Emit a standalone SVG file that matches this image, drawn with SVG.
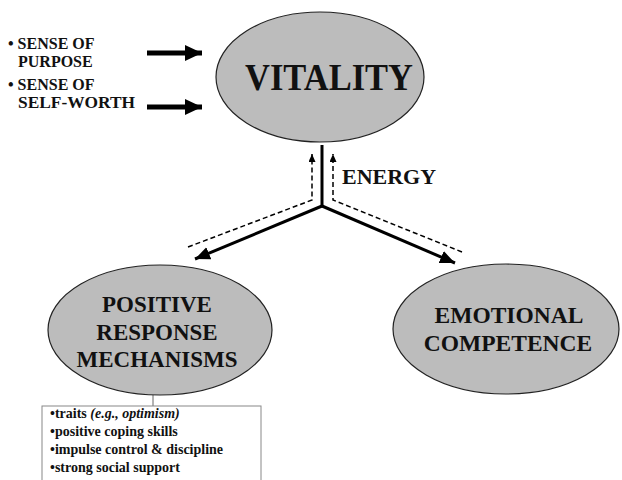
<svg xmlns="http://www.w3.org/2000/svg" width="622" height="480" viewBox="0 0 622 480">
<style>
.node{fill:#bcbcbc;stroke:#222;stroke-width:1.2}
.t{font-family:"Liberation Serif","Times New Roman",serif;font-weight:bold;fill:#111}
.solid{stroke:#000;stroke-width:3;fill:none}
.dash{stroke:#000;stroke-width:1.5;fill:none;stroke-dasharray:5 3}
.box{fill:#fff;stroke:#888;stroke-width:1}
</style>
<defs>
<marker id="big" markerUnits="userSpaceOnUse" markerWidth="18" markerHeight="18" refX="17" refY="8" orient="auto"><path d="M0,0 L17,8 L0,16 Z" fill="#000"/></marker>
<marker id="mid" markerUnits="userSpaceOnUse" markerWidth="16" markerHeight="14" refX="15" refY="6.5" orient="auto"><path d="M0,0 L15,6.5 L0,13 Z" fill="#000"/></marker>
<marker id="small" markerUnits="userSpaceOnUse" markerWidth="9" markerHeight="8" refX="8" refY="3.5" orient="auto"><path d="M0,0 L8,3.5 L0,7 Z" fill="#000"/></marker>
</defs>
<rect width="622" height="480" fill="#fff"/>
<g id="inputs">
<text class="t" x="8" y="49" font-size="16">• SENSE OF</text>
<text class="t" x="18" y="67" font-size="16">PURPOSE</text>
<text class="t" x="8" y="90" font-size="16">• SENSE OF</text>
<text class="t" x="18" y="108" font-size="16" textLength="117" lengthAdjust="spacingAndGlyphs">SELF-WORTH</text>
</g>
<g id="connectors">
<line x1="147" y1="53" x2="202" y2="53" stroke="#000" stroke-width="5" marker-end="url(#big)"/>
<line x1="147" y1="107" x2="202" y2="107" stroke="#000" stroke-width="5" marker-end="url(#big)"/>
<line class="solid" x1="322" y1="145" x2="322" y2="207"/>
<line class="solid" x1="322" y1="206" x2="195" y2="259" marker-end="url(#mid)"/>
<line class="solid" x1="322" y1="206" x2="455" y2="263" marker-end="url(#mid)"/>
<polyline class="dash" points="188,247 312,200 312,154" marker-end="url(#small)"/>
<polyline class="dash" points="462,252 333,200 333,154" marker-end="url(#small)"/>
<line x1="153" y1="395" x2="153" y2="406" stroke="#666" stroke-width="1"/>
</g>
<g id="vitality">
<ellipse class="node" cx="320" cy="77" rx="104" ry="65"/>
<text class="t" x="245" y="90" font-size="38" textLength="168" lengthAdjust="spacingAndGlyphs">VITALITY</text>
</g>
<g id="energy">
<text class="t" x="342" y="184" font-size="22">ENERGY</text>
</g>
<g id="positive">
<ellipse class="node" cx="160" cy="330" rx="112" ry="65"/>
<text class="t" x="157" y="312" font-size="23" text-anchor="middle">POSITIVE</text>
<text class="t" x="157" y="340" font-size="23" text-anchor="middle">RESPONSE</text>
<text class="t" x="157" y="367" font-size="23" text-anchor="middle">MECHANISMS</text>
</g>
<g id="emotional">
<ellipse class="node" cx="506" cy="329" rx="113" ry="65"/>
<text class="t" x="509" y="323" font-size="23.5" text-anchor="middle">EMOTIONAL</text>
<text class="t" x="508" y="351" font-size="23.5" text-anchor="middle">COMPETENCE</text>
</g>
<g id="traits">
<rect class="box" x="42" y="406" width="219" height="80"/>
<text class="t" x="50" y="418" font-size="14">•traits <tspan font-style="italic">(e.g., optimism)</tspan></text>
<text class="t" x="50" y="436" font-size="14">•positive coping skills</text>
<text class="t" x="50" y="454" font-size="14">•impulse control &amp; discipline</text>
<text class="t" x="50" y="472" font-size="14">•strong social support</text>
</g>
</svg>
